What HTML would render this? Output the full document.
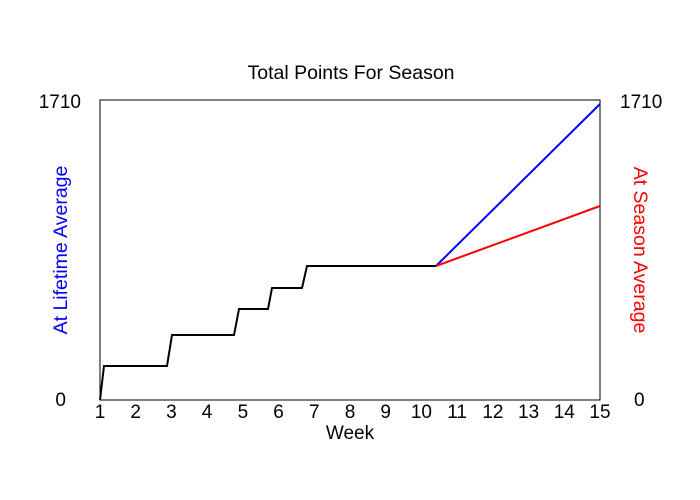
<!DOCTYPE html>
<html><head><style>body{margin:0;background:#fff}svg{display:block}text{font-family:"Liberation Sans",sans-serif}</style></head><body>
<svg width="700" height="500" viewBox="0 0 700 500">
<rect width="700" height="500" fill="#fff"/>
<text x="351" y="79" font-size="19.5" text-anchor="middle">Total Points For Season</text>
<rect x="100" y="100" width="500" height="300" fill="none" stroke="#000" stroke-width="1"/>
<g font-size="19" text-anchor="middle">
<text x="100" y="418">1</text><text x="135.7" y="418">2</text><text x="171.4" y="418">3</text><text x="207.1" y="418">4</text><text x="242.9" y="418">5</text><text x="278.6" y="418">6</text><text x="314.3" y="418">7</text><text x="350" y="418">8</text><text x="385.7" y="418">9</text><text x="421.4" y="418">10</text><text x="457.1" y="418">11</text><text x="492.9" y="418">12</text><text x="528.6" y="418">13</text><text x="564.3" y="418">14</text><text x="600" y="418">15</text>
<text x="350" y="439">Week</text>
</g>
<g font-size="19">
<text x="81" y="108" text-anchor="end">1710</text><text x="66" y="406" text-anchor="end">0</text>
<text x="620" y="108">1710</text><text x="634" y="406">0</text>
</g>
<text transform="translate(67,250) rotate(-90)" font-size="19.5" fill="#0000ff" text-anchor="middle">At Lifetime Average</text>
<text transform="translate(634,250) rotate(90)" font-size="19.5" fill="#ff0000" text-anchor="middle">At Season Average</text>
<polyline points="436,266 600,104" fill="none" stroke="#0000ff" stroke-width="2"/>
<polyline points="436,266 600,206" fill="none" stroke="#ff0000" stroke-width="2"/>
<polyline points="100,400 104,366 167,366 172,335 234,335 239,309 268,309 272,288 302,288 307,266 436,266" fill="none" stroke="#000" stroke-width="2"/>
</svg>
</body></html>
